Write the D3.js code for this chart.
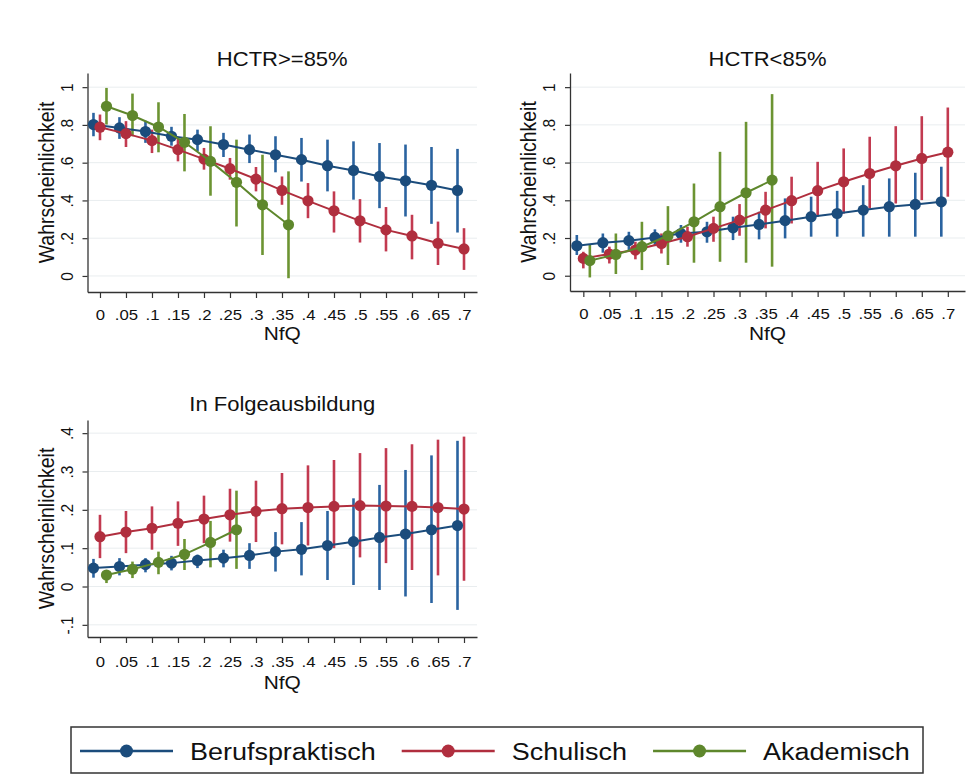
<!DOCTYPE html>
<html>
<head>
<meta charset="utf-8">
<script src="https://cdn.jsdelivr.net/npm/d3@7"></script>
<style>
  html, body { margin: 0; padding: 0; background: #ffffff; }
  svg { display: block; }
  text { font-family: "Liberation Sans", Arial, Helvetica, sans-serif; fill: #111; }
</style>
</head>
<body>
<svg id="chart" width="971" height="775"></svg>
<script>
// ---------------- DATA ----------------
const nfq = [0, 0.05, 0.1, 0.15, 0.2, 0.25, 0.3, 0.35, 0.4, 0.45, 0.5, 0.55, 0.6, 0.65, 0.7];
const xTickLabels = ["0", ".05", ".1", ".15", ".2", ".25", ".3", ".35", ".4", ".45", ".5", ".55", ".6", ".65", ".7"];
const seriesNames = ["Berufspraktisch", "Schulisch", "Akademisch"];
const panelTitles = ["HCTR>=85%", "HCTR<85%", "In Folgeausbildung"];
const yTicksProb = [0, 0.2, 0.4, 0.6, 0.8, 1];
const yTickLabelsProb = ["0", ".2", ".4", ".6", ".8", "1"];
const yTicksFolge = [-0.1, 0, 0.1, 0.2, 0.3, 0.4];
const yTickLabelsFolge = ["-.1", "0", ".1", ".2", ".3", ".4"];

// [estimate, lower CI, upper CI] per NfQ value
const hoch_beruf = [[.802,.740,.864],[.784,.726,.841],[.765,.705,.822],[.740,.690,.790],[.722,.660,.775],[.696,.630,.758],[.669,.598,.749],[.642,.549,.740],[.616,.500,.731],[.584,.448,.722],[.559,.404,.713],[.527,.359,.704],[.504,.315,.696],[.480,.276,.683],[.453,.230,.673]];
const hoch_schul = [[.788,.719,.855],[.754,.683,.820],[.717,.651,.775],[.669,.607,.731],[.619,.563,.678],[.568,.510,.625],[.513,.448,.577],[.453,.377,.527],[.398,.306,.492],[.345,.230,.448],[.292,.177,.407],[.244,.130,.365],[.212,.088,.324],[.173,.058,.288],[.143,.032,.253]];
const hoch_akad  = [[.899,.802,.996],[.850,.740,.966],[.789,.655,.920],[.708,.554,.858],[.607,.425,.793],[.496,.262,.722],[.377,.111,.642],[.271,-.012,.554]];

const tief_beruf = [[.159,.110,.216],[.175,.122,.224],[.186,.136,.233],[.203,.157,.246],[.224,.175,.269],[.233,.175,.286],[.254,.189,.313],[.272,.193,.339],[.292,.198,.410],[.313,.207,.419],[.330,.207,.450],[.348,.207,.480],[.366,.207,.516],[.378,.207,.546],[.392,.207,.578]];
const tief_schul = [[.092,.039,.127],[.115,.065,.154],[.136,.087,.180],[.171,.118,.224],[.207,.154,.260],[.251,.180,.313],[.295,.212,.380],[.348,.251,.445],[.398,.277,.525],[.451,.313,.604],[.498,.330,.675],[.542,.357,.737],[.583,.383,.793],[.622,.401,.846],[.655,.419,.892]];
const tief_akad  = [[.080,-.009,.163],[.113,.009,.224],[.154,.030,.286],[.212,.057,.369],[.286,.069,.489],[.366,.074,.657],[.440,.069,.816],[.507,.048,.963]];

const folge_beruf = [[.048,.023,.072],[.052,.029,.074],[.057,.037,.074],[.061,.042,.080],[.068,.048,.083],[.074,.050,.096],[.081,.046,.113],[.091,.039,.142],[.097,.029,.168],[.107,.017,.197],[.117,.004,.230],[.128,-.009,.265],[.137,-.026,.304],[.148,-.043,.342],[.159,-.061,.380]];
const folge_schul = [[.130,.074,.187],[.142,.087,.197],[.152,.096,.209],[.165,.106,.222],[.176,.113,.237],[.187,.117,.255],[.196,.116,.276],[.203,.110,.296],[.206,.107,.316],[.209,.100,.330],[.211,.076,.348],[.210,.061,.361],[.209,.043,.371],[.206,.029,.383],[.202,.015,.391]];
const folge_akad  = [[.030,.009,.043],[.045,.022,.065],[.063,.032,.091],[.084,.043,.124],[.115,.050,.171],[.148,.046,.250]];

// ---------------- STYLE / LAYOUT ----------------
const colors = ["#1b4c7c", "#b02e3e", "#5e872c"];
const ciColors = ["#2a63a0", "#c23a50", "#6c9432"];
const xOffsets = [-0.0125, 0, 0.0125];
const SX = 1.1; // horizontal text stretch of the reference

const panels = [
  { title: panelTitles[0], data: [hoch_beruf, hoch_schul, hoch_akad],
    x0: 87.5, x1: 477, y0: 73, y1: 292, xd: [-0.024, 0.725], yd: [-0.085, 1.075],
    yt: yTicksProb, ytl: yTickLabelsProb, titleY: 66, xlabY: 28.5, xtitY: 47.5 },
  { title: panelTitles[1], data: [tief_beruf, tief_schul, tief_akad],
    x0: 570, x1: 965, xd: [-0.0256, 0.733], y0: 73, y1: 291, yd: [-0.081, 1.075],
    yt: yTicksProb, ytl: yTickLabelsProb, titleY: 66, xlabY: 28.5, xtitY: 48.5 },
  { title: panelTitles[2], data: [folge_beruf, folge_schul, folge_akad],
    x0: 87.5, x1: 477, y0: 420, y1: 637, xd: [-0.024, 0.725], yd: [-0.1317, 0.4343],
    yt: yTicksFolge, ytl: yTickLabelsFolge, titleY: 411, xlabY: 30.5, xtitY: 51.5 }
];

const svg = d3.select("#chart");
svg.append("rect").attr("width", 971).attr("height", 775).attr("fill", "#fff");

function addText(g, x, y, str, size, anchor, rot) {
  return g.append("text")
    .attr("transform", `translate(${x},${y}) scale(${SX},1)` + (rot ? " rotate(-90)" : ""))
    .attr("text-anchor", anchor)
    .style("font-size", size + "px")
    .text(str);
}

panels.forEach(p => {
  const g = svg.append("g");
  const x = d3.scaleLinear().domain(p.xd).range([p.x0, p.x1]);
  const y = d3.scaleLinear().domain(p.yd).range([p.y1, p.y0]);

  // faint gridlines
  g.selectAll(".grid").data(p.yt).enter().append("line")
    .attr("x1", p.x0).attr("x2", p.x1)
    .attr("y1", d => y(d)).attr("y2", d => y(d))
    .attr("stroke", "#e9edef").attr("stroke-width", 1);

  // x axis
  const xa = g.append("g").attr("transform", `translate(0,${p.y1})`)
    .call(d3.axisBottom(x).tickValues(nfq).tickFormat((d, i) => xTickLabels[i]).tickSize(6).tickSizeOuter(0));
  xa.select(".domain").attr("stroke", "#333").attr("stroke-width", 1.3);
  xa.selectAll(".tick line").attr("stroke", "#333").attr("stroke-width", 1.2);
  xa.selectAll(".tick text").attr("y", p.xlabY).attr("dy", null)
    .attr("transform", `scale(1.08,1)`)
    .style("font-size", "15.5px").attr("fill", "#111");

  // y axis
  const ya = g.append("g").attr("transform", `translate(${p.x0},0)`)
    .call(d3.axisLeft(y).tickValues(p.yt).tickFormat((d, i) => p.ytl[i]).tickSize(5).tickSizeOuter(0));
  ya.select(".domain").attr("stroke", "#333").attr("stroke-width", 1.3);
  ya.selectAll(".tick line").attr("stroke", "#333").attr("stroke-width", 1.2);
  ya.selectAll(".tick text").attr("x", null).attr("dy", null)
    .attr("transform", `translate(-15,0) scale(${SX},1) rotate(-90)`)
    .attr("text-anchor", "middle")
    .style("font-size", "15.5px").attr("fill", "#111");

  // titles
  const cx = (p.x0 + p.x1) / 2;
  const cy = (p.y0 + p.y1) / 2;
  addText(g, cx, p.titleY, p.title, 20, "middle", false);
  addText(g, cx, p.y1 + p.xtitY, "NfQ", 19, "middle", false);
  addText(g, p.x0 - 34, cy, "Wahrscheinlichkeit", 19.5, "middle", true);

  // confidence intervals
  p.data.forEach((s, si) => {
    g.selectAll(null).data(s).enter().append("line")
      .attr("x1", (d, i) => x(nfq[i] + xOffsets[si]))
      .attr("x2", (d, i) => x(nfq[i] + xOffsets[si]))
      .attr("y1", d => y(d[1])).attr("y2", d => y(d[2]))
      .attr("stroke", ciColors[si]).attr("stroke-width", 2.6);
  });
  // connected lines + markers
  p.data.forEach((s, si) => {
    const line = d3.line().x((d, i) => x(nfq[i] + xOffsets[si])).y(d => y(d[0]));
    g.append("path").datum(s).attr("d", line)
      .attr("fill", "none").attr("stroke", colors[si]).attr("stroke-width", 2);
    g.selectAll(null).data(s).enter().append("circle")
      .attr("cx", (d, i) => x(nfq[i] + xOffsets[si]))
      .attr("cy", d => y(d[0]))
      .attr("r", 5.6).attr("fill", colors[si]);
  });
});

// ---------------- LEGEND ----------------
const lg = svg.append("g");
lg.append("rect").attr("x", 71).attr("y", 727).attr("width", 852).attr("height", 46)
  .attr("fill", "#fff").attr("stroke", "#333").attr("stroke-width", 1.5);
let lx = 80;
const ly = 751;
seriesNames.forEach((name, i) => {
  lg.append("line").attr("x1", lx).attr("x2", lx + 93).attr("y1", ly).attr("y2", ly)
    .attr("stroke", colors[i]).attr("stroke-width", 2.5);
  lg.append("circle").attr("cx", lx + 46.5).attr("cy", ly).attr("r", 6.5).attr("fill", colors[i]);
  const t = addText(lg, lx + 110, ly + 9, name, 24.5, "start", false);
  const w = t.node().getComputedTextLength() * SX;
  lx = lx + 110 + w + 26;
});
</script>
</body>
</html>
